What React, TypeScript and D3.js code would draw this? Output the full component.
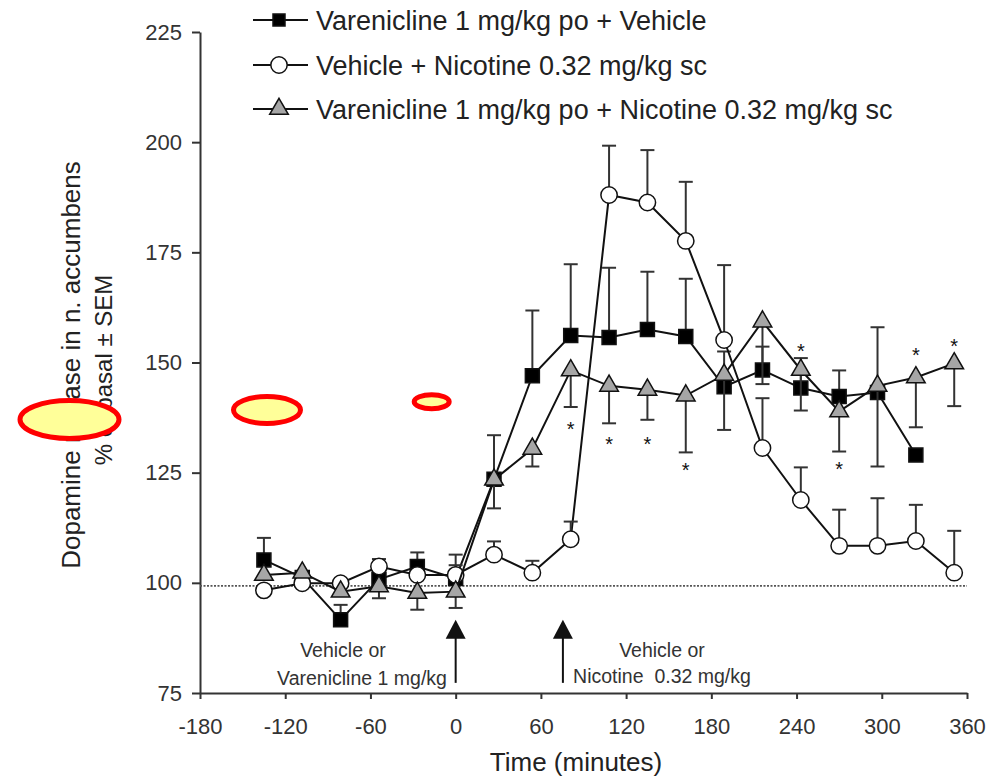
import * as React from 'react';
import * as d3 from 'd3';

// sampling times (minutes)
const times = [-135, -108, -81, -54, -27, 0, 27, 54, 81, 108, 135, 162, 189, 216, 243, 270, 297, 324, 351];

// Varenicline 1 mg/kg po + Vehicle (error bars drawn upward)
const varVehMean = [105.2, 101.2, 91.6, 100.8, 103.7, 101.0, 123.5, 147.0, 156.1, 155.7, 157.5, 155.9, 144.5, 148.3, 144.2, 142.3, 143.2, 129.0, null];
const varVehSem = [5.0, 0, 3.4, 2.0, 3.2, 3.0, 10.0, 14.8, 16.2, 15.8, 13.1, 13.1, 8.0, 5.3, 6.8, 5.9, 14.8, 0, null];

// Vehicle + Nicotine 0.32 mg/kg sc (error bars upward)
const vehNicMean = [98.3, 99.9, 99.9, 103.7, 101.8, 101.8, 106.4, 102.3, 109.9, 188.0, 186.3, 177.6, 155.1, 130.6, 118.8, 108.4, 108.4, 109.5, 102.3];
const vehNicSem = [0, 0, 0, 1.7, 0, 4.6, 3.0, 2.7, 4.0, 11.2, 11.9, 13.4, 17.0, 11.3, 7.4, 8.2, 10.8, 8.2, 9.5];

// Varenicline 1 mg/kg po + Nicotine 0.32 mg/kg sc (error bars downward)
const varNicMean = [101.8, 102.3, 98.0, 99.2, 97.7, 98.0, 123.4, 130.4, 148.2, 144.7, 143.8, 142.5, 147.2, 159.3, 148.3, 138.9, 144.7, 146.6, 149.8];
const varNicSem = [0, 0, 0, 2.7, 3.8, 3.7, 6.5, 4.0, 8.3, 8.5, 6.8, 12.9, 12.5, 14.2, 9.2, 9.1, 18.3, 11.3, 9.7];

// significance stars
const starTimes = [81, 108, 135, 162, 243, 270, 324, 351];
const starValues = [135.8, 132.4, 132.4, 126.5, 153.5, 126.8, 152.5, 154.7];

const xTicks = [-180, -120, -60, 0, 60, 120, 180, 240, 300, 360];
const yTicks = [75, 100, 125, 150, 175, 200, 225];
const basalLevel = 99.3;

const legendLabels = [
  'Varenicline 1 mg/kg po + Vehicle',
  'Vehicle + Nicotine 0.32 mg/kg sc',
  'Varenicline 1 mg/kg po + Nicotine 0.32 mg/kg sc',
];

// injection arrows
const arrowTimes = [0, 75.5];

const FONT = '"Liberation Sans", Arial, sans-serif';

export default function App() {
  const svgRef = React.useRef<SVGSVGElement>(null);
  const width = 1005;
  const height = 782;

  React.useEffect(() => {
    if (!svgRef.current) return;
    const svg = d3.select(svgRef.current);
    svg.selectAll('*').remove();

    const x = d3.scaleLinear().domain([-180, 360]).range([200, 967]);
    const y = d3.scaleLinear().domain([75, 225]).range([693, 32]);

    // y axis
    const yAxis = d3.axisLeft(y).tickValues(yTicks).tickSize(8).tickSizeOuter(0).tickPadding(10);
    const yg = svg.append('g').attr('transform', 'translate(200,0)').call(yAxis);
    // x axis (plain hyphen for negatives)
    const xAxis = d3
      .axisBottom(x)
      .tickValues(xTicks)
      .tickFormat((d) => String(d))
      .tickSize(6)
      .tickSizeOuter(0)
      .tickPadding(19);
    const xg = svg.append('g').attr('transform', 'translate(0,693)').call(xAxis);

    [yg, xg].forEach((g) => {
      g.select('.domain').attr('stroke', '#333').attr('stroke-width', 2);
      g.selectAll('.tick line').attr('stroke', '#333').attr('stroke-width', 2);
      g.selectAll('.tick text')
        .attr('fill', '#333')
        .style('font-family', FONT)
        .style('font-size', '22px');
    });

    // axis titles
    svg.append('text')
      .attr('x', 576)
      .attr('y', 771)
      .attr('text-anchor', 'middle')
      .attr('fill', '#222')
      .style('font-family', FONT)
      .style('font-size', '26px')
      .text('Time (minutes)');

    svg.append('text')
      .attr('transform', 'translate(80,365) rotate(-90)')
      .attr('text-anchor', 'middle')
      .attr('fill', '#222')
      .style('font-family', FONT)
      .style('font-size', '26px')
      .text('Dopamine release in n. accumbens');
    svg.append('text')
      .attr('transform', 'translate(112,370) rotate(-90)')
      .attr('text-anchor', 'middle')
      .attr('fill', '#222')
      .style('font-family', FONT)
      .style('font-size', '24px')
      .text('% of basal ± SEM');

    // basal dotted line
    svg.append('line')
      .attr('x1', x(-180))
      .attr('x2', x(360))
      .attr('y1', y(basalLevel))
      .attr('y2', y(basalLevel))
      .attr('stroke', '#555')
      .attr('stroke-width', 1.6)
      .attr('stroke-dasharray', '2,1.5');

    // arrows
    arrowTimes.forEach((t) => {
      const ax = x(t);
      svg.append('line')
        .attr('x1', ax)
        .attr('x2', ax)
        .attr('y1', y(77.3))
        .attr('y2', y(88.5))
        .attr('stroke', '#111')
        .attr('stroke-width', 2);
      svg.append('path')
        .attr('d', `M${ax},${y(91.6)} L${ax - 10},${y(87.3)} L${ax + 10},${y(87.3)} Z`)
        .attr('fill', '#111');
    });

    const annot = (tx: number, ty: number, s: string) =>
      svg.append('text')
        .attr('x', tx)
        .attr('y', ty)
        .attr('text-anchor', 'middle')
        .attr('fill', '#333')
        .style('font-family', FONT)
        .style('font-size', '19.5px')
        .text(s);
    annot(343, 657, 'Vehicle or');
    annot(362, 685, 'Varenicline 1 mg/kg');
    annot(662, 657, 'Vehicle or');
    annot(662, 683, 'Nicotine  0.32 mg/kg').style('white-space', 'pre');

    type Pt = { t: number; v: number | null; e: number | null };
    const series = [
      { mean: varVehMean, sem: varVehSem, dir: 1, shape: d3.symbolSquare, size: 196, fill: '#000' },
      { mean: vehNicMean, sem: vehNicSem, dir: 1, shape: d3.symbolCircle, size: 210, fill: '#fff' },
      { mean: varNicMean, sem: varNicSem, dir: -1, shape: d3.symbolTriangle, size: 150, fill: '#a6a6a6' },
    ];

    const line = d3
      .line<Pt>()
      .defined((d) => d.v != null)
      .x((d) => x(d.t))
      .y((d) => y(d.v as number));

    series.forEach((s) => {
      const pts: Pt[] = times.map((t, i) => ({ t, v: s.mean[i], e: s.sem[i] }));
      const g = svg.append('g');
      g.append('path')
        .datum(pts)
        .attr('d', line)
        .attr('fill', 'none')
        .attr('stroke', '#111')
        .attr('stroke-width', 2);

      const withErr = pts.filter((d) => d.v != null && d.e != null && d.e > 0);
      const eb = g.selectAll('.eb').data(withErr).enter().append('g');
      eb.append('line')
        .attr('x1', (d) => x(d.t))
        .attr('x2', (d) => x(d.t))
        .attr('y1', (d) => y(d.v as number))
        .attr('y2', (d) => y((d.v as number) + s.dir * (d.e as number)))
        .attr('stroke', '#333')
        .attr('stroke-width', 2);
      eb.append('line')
        .attr('x1', (d) => x(d.t) - 7)
        .attr('x2', (d) => x(d.t) + 7)
        .attr('y1', (d) => y((d.v as number) + s.dir * (d.e as number)))
        .attr('y2', (d) => y((d.v as number) + s.dir * (d.e as number)))
        .attr('stroke', '#333')
        .attr('stroke-width', 2);

      g.selectAll('.mk')
        .data(pts.filter((d) => d.v != null))
        .enter()
        .append('path')
        .attr('transform', (d) => `translate(${x(d.t)},${y(d.v as number)})`)
        .attr('d', d3.symbol().type(s.shape).size(s.size)())
        .attr('fill', s.fill)
        .attr('stroke', '#111')
        .attr('stroke-width', 1.5);
    });

    // stars
    svg.selectAll('.star')
      .data(starTimes)
      .enter()
      .append('text')
      .attr('x', (d) => x(d))
      .attr('y', (d, i) => y(starValues[i]) + 11)
      .attr('text-anchor', 'middle')
      .attr('fill', '#111')
      .style('font-family', FONT)
      .style('font-size', '20px')
      .text('*');

    // legend
    const rowsY = [20, 65, 109];
    const legend = svg.append('g');
    legendLabels.forEach((label, i) => {
      const s = series[i];
      const ly = rowsY[i];
      legend.append('line')
        .attr('x1', 253)
        .attr('x2', 308)
        .attr('y1', ly)
        .attr('y2', ly)
        .attr('stroke', '#111')
        .attr('stroke-width', 2);
      legend.append('path')
        .attr('transform', `translate(279,${ly})`)
        .attr('d', d3.symbol().type(s.shape).size(i === 0 ? 144 : s.size)())
        .attr('fill', s.fill)
        .attr('stroke', '#111')
        .attr('stroke-width', 1.5);
      legend.append('text')
        .attr('x', 316)
        .attr('y', ly + 9.5)
        .attr('fill', '#222')
        .style('font-family', FONT)
        .style('font-size', '27px')
        .text(label);
    });

    // highlight ellipses laid over the figure
    const hl = svg.append('g');
    [
      [69.5, 419.5, 49.5, 19],
      [267, 410, 33.5, 13.5],
      [431.7, 401.7, 17.5, 7],
    ].forEach(([cx, cy, rx, ry]) => {
      hl.append('ellipse')
        .attr('cx', cx)
        .attr('cy', cy)
        .attr('rx', rx)
        .attr('ry', ry)
        .attr('fill', '#ffff99')
        .attr('stroke', '#ff0000')
        .attr('stroke-width', 5);
    });
  }, []);

  return (
    <div style={{ position: 'absolute', left: 0, top: 0, background: '#fff' }}>
      <svg ref={svgRef} width={width} height={height} />
    </div>
  );
}
